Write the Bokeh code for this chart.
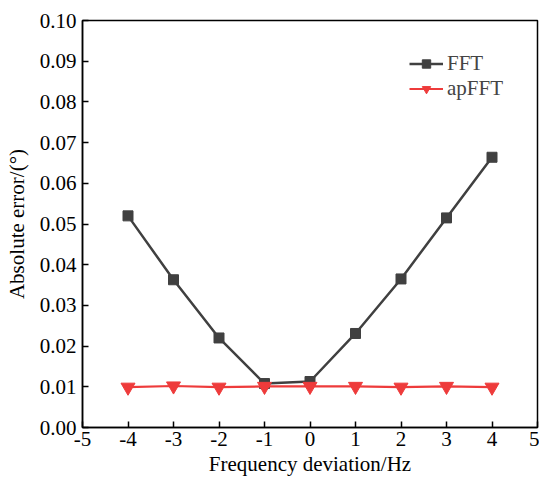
from bokeh.plotting import figure
from bokeh.models import Range1d, FixedTicker, Legend, LegendItem
from bokeh.embed import file_html
from bokeh.resources import INLINE

freq_dev = [-4, -3, -2, -1, 0, 1, 2, 3, 4]
fft_err = [0.0520, 0.0363, 0.0220, 0.0108, 0.0113, 0.0231, 0.0365, 0.0515, 0.0664]
apfft_err = [0.0099, 0.0102, 0.0099, 0.0101, 0.0101, 0.0101, 0.0099, 0.0101, 0.0099]
x_ticks = [-5, -4, -3, -2, -1, 0, 1, 2, 3, 4, 5]
x_tick_labels = ["-5", "-4", "-3", "-2", "-1", "0", "1", "2", "3", "4", "5"]
y_ticks = [0.00, 0.01, 0.02, 0.03, 0.04, 0.05, 0.06, 0.07, 0.08, 0.09, 0.10]
y_tick_labels = ["0.00", "0.01", "0.02", "0.03", "0.04", "0.05", "0.06", "0.07", "0.08", "0.09", "0.10"]

FONT = "Liberation Serif"
FS = "21px"

p = figure(width=539, height=481, output_backend="svg", toolbar_location=None,
           x_range=Range1d(-5, 5), y_range=Range1d(0, 0.10),
           min_border_left=82, min_border_right=2, min_border_top=20, min_border_bottom=54)
p.xgrid.visible = False
p.ygrid.visible = False
p.outline_line_color = "black"
p.outline_line_width = 1.5
p.background_fill_color = "white"
p.border_fill_color = "white"

for ax in (p.xaxis[0], p.yaxis[0]):
    ax.axis_line_color = "black"
    ax.axis_line_width = 1.5
    ax.major_tick_in = 6
    ax.major_tick_out = 0
    ax.minor_tick_line_color = None
    ax.major_tick_line_color = "black"
    ax.major_tick_line_width = 1.5
    ax.major_label_text_font = FONT
    ax.major_label_text_font_size = FS
    ax.major_label_text_color = "black"
    ax.axis_label_text_font = FONT
    ax.axis_label_text_font_size = FS
    ax.axis_label_text_font_style = "normal"
    ax.axis_label_text_color = "black"

p.xaxis[0].ticker = FixedTicker(ticks=x_ticks)
p.yaxis[0].ticker = FixedTicker(ticks=y_ticks)
p.xaxis[0].major_label_overrides = {t: s for t, s in zip(x_ticks, x_tick_labels)}
p.yaxis[0].major_label_overrides = {t: s for t, s in zip(y_ticks, y_tick_labels)}
p.xaxis[0].axis_label = "Frequency deviation/Hz"
p.yaxis[0].axis_label = "Absolute error/(°)"
p.xaxis[0].major_label_standoff = 4
p.yaxis[0].major_label_standoff = 6
p.xaxis[0].axis_label_standoff = 3
p.yaxis[0].axis_label_standoff = 8

c1 = "#404040"
c2 = "#ee3b3b"
l1 = p.line(freq_dev, fft_err, line_color=c1, line_width=2.5)
m1 = p.scatter(freq_dev, fft_err, marker="square", size=10, fill_color=c1, line_color=c1)
l2 = p.line(freq_dev, apfft_err, line_color=c2, line_width=2.2)
m2 = p.scatter(freq_dev, apfft_err, marker="inverted_triangle", size=14, fill_color=c2, line_color=c2)

legend = Legend(items=[LegendItem(label="FFT", renderers=[l1, m1]),
                       LegendItem(label="apFFT", renderers=[l2, m2])])
legend.margin = 0
legend.border_line_color = None
legend.background_fill_alpha = 0
legend.label_text_font = FONT
legend.label_text_font_size = FS
legend.label_text_line_height = 1.0
legend.label_standoff = 4
legend.glyph_width = 34
legend.glyph_height = 21
legend.spacing = 0
legend.padding = 0
legend.label_height = 21
legend.location = (327, 326)
p.add_layout(legend)

open("out.html", "w").write(file_html(p, INLINE))
